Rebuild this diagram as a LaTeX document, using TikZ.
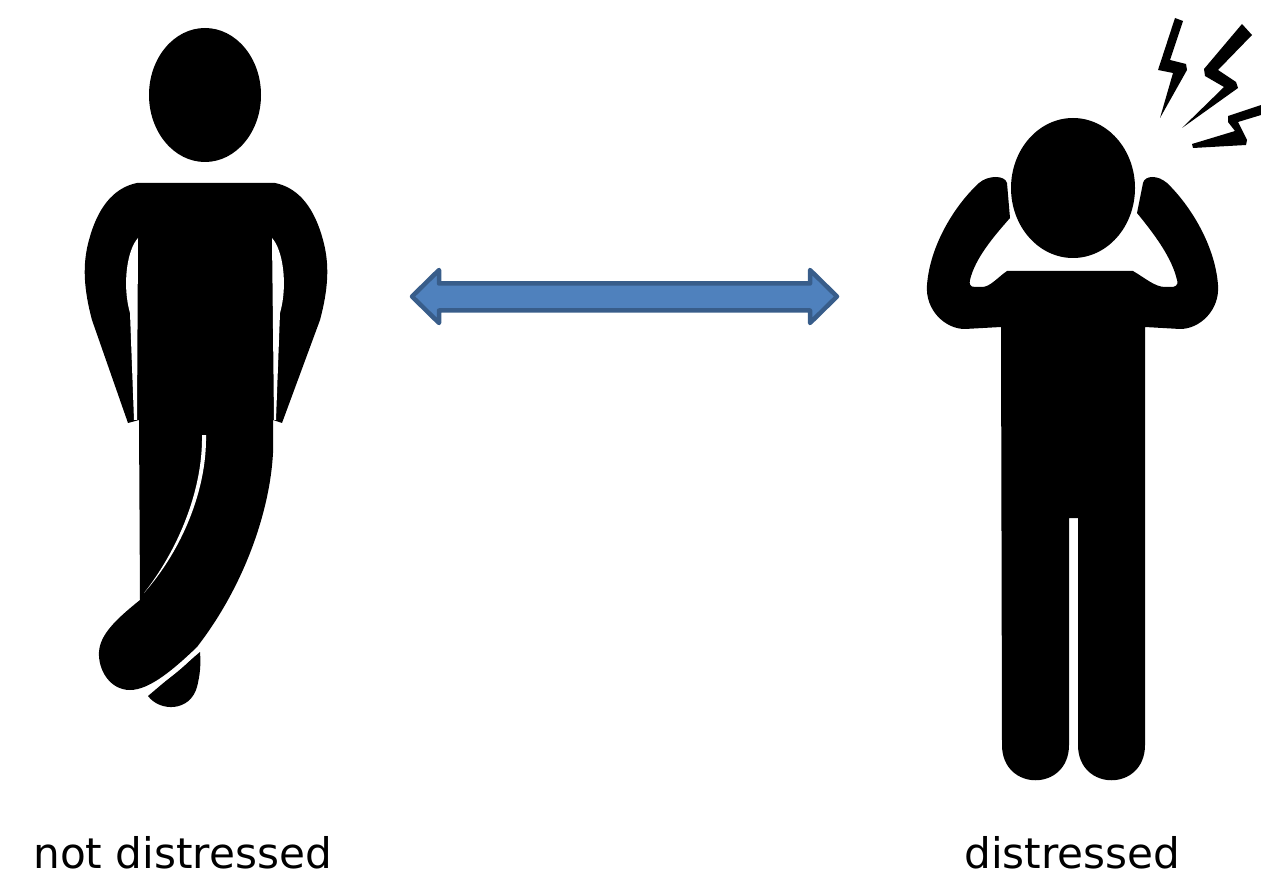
\documentclass[tikz,border=0pt]{standalone}
\usepackage{fontspec}
\setmainfont{DejaVu Sans}
\usetikzlibrary{positioning}
\definecolor{arrowfill}{HTML}{4F81BD}
\definecolor{arrowline}{HTML}{385D8A}
\begin{document}
\begin{tikzpicture}[x=0.02cm, y=-0.02cm, line join=round,
    fig/.style={fill=black, draw=none},
    arrowshape/.style={draw=arrowline, fill=arrowfill, line width=0.09cm},
    lbl/.style={font=\fontsize{24}{28}\selectfont, text=black, inner sep=0pt}]
  \useasboundingbox (0,0) rectangle (1261,878);
  % left figure
  \fill[fig] (205,95) ellipse [x radius=56, y radius=67];
  \fill[fig] (137,183) -- (275,183)
    .. controls (300,188) and (315,210) .. (323,240)
    .. controls (330,265) and (328,290) .. (320,320)
    -- (282,423) -- (273,420) -- (273,453)
    .. controls (270,510) and (245,585) .. (197,647)
    .. controls (175,668) and (150,690) .. (130,690)
    .. controls (110,690) and (98,670) .. (99,652)
    .. controls (100,635) and (115,620) .. (140,600)
    -- (139,420) -- (128,423) -- (92,320)
    .. controls (84,290) and (82,265) .. (89,240)
    .. controls (97,210) and (112,188) .. (137,183) -- cycle;
  \fill[fig] (148,696) .. controls (160,712) and (190,712) .. (197,687)
    .. controls (200,675) and (201,665) .. (200,652) -- cycle;
  \fill[white] (138,238) .. controls (127,250) and (122,285) .. (130,313)
    -- (134,420) -- (137,420) -- cycle;
  \fill[white] (272,238) .. controls (283,250) and (288,285) .. (280,313)
    -- (276,420) -- (274,420) -- cycle;
  \fill[white] (202,435) -- (206,435) .. controls (207,490) and (182,550) .. (144,593)
    .. controls (178,550) and (203,490) .. (202,435) -- cycle;
  \draw[white, line width=0.03cm, line cap=round] (150,690) .. controls (170,678) and (185,665) .. (197,652);
  % right figure
  \fill[fig] (1073,188) ellipse [x radius=62, y radius=70];
  \fill[fig] (1007,271) -- (1133,271)
    .. controls (1145,278) and (1155,287) .. (1165,287)
    -- (1173,287) .. controls (1178,286) and (1178,282) .. (1177,280)
    .. controls (1172,258) and (1155,235) .. (1137,213)
    -- (1143,183) .. controls (1145,175) and (1158,175) .. (1167,183)
    .. controls (1190,205) and (1215,245) .. (1218,285)
    .. controls (1220,310) and (1200,329) .. (1180,329)
    -- (1145,327) -- (1145,745)
    .. controls (1145,792) and (1078,792) .. (1078,745)
    -- (1078,518) -- (1069,518) -- (1069,745)
    .. controls (1069,792) and (1002,792) .. (1002,745)
    -- (1001,327) -- (965,329)
    .. controls (945,329) and (925,310) .. (927,285)
    .. controls (930,245) and (955,205) .. (979,183)
    .. controls (988,175) and (1005,175) .. (1007,183)
    -- (1010,218) .. controls (995,235) and (975,258) .. (970,280)
    .. controls (969,284) and (970,287) .. (975,287)
    -- (982,287) .. controls (990,287) and (997,278) .. (1007,271) -- cycle;
  % bolts
  \fill[fig] (1175,18) -- (1183,21) -- (1170,60) -- (1186,64) -- (1187,70) -- (1160,118)
    -- (1173,73) -- (1158,70) -- cycle;
  \fill[fig] (1242,24) -- (1252,35) -- (1218,70) -- (1236,82) -- (1238,88) -- (1182,128)
    -- (1224,87) -- (1205,76) -- (1204,69) -- cycle;
  \fill[fig] (1261,105) -- (1228,116) -- (1228,122) -- (1235,131) -- (1192,144) -- (1193,148)
    -- (1246,145) -- (1247,140) -- (1238,122) -- (1261,115) -- cycle;
  % arrow
  \draw[arrowshape] (412,296.5) -- (439,270) -- (439,283.5) -- (810,283.5) -- (810,270)
    -- (837,296.5) -- (810,323) -- (810,310.5) -- (439,310.5) -- (439,323) -- cycle;
  % labels
  \node[lbl, anchor=base west] (calm) at (33,868) {not distressed};
  \node[lbl, anchor=base west] (upset) at (964,868) {distressed};
\end{tikzpicture}
\end{document}
